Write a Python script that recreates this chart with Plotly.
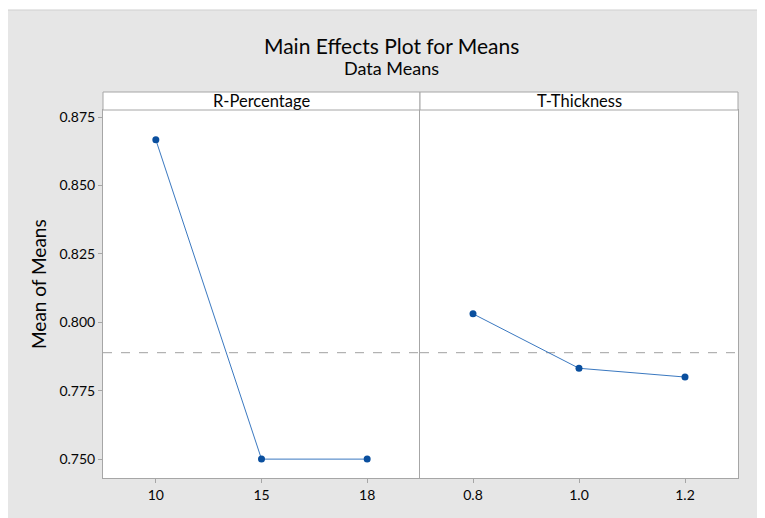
import plotly.graph_objects as go
from plotly.subplots import make_subplots

# Data
r_levels = ["10", "15", "18"]
r_means = [0.8667, 0.7500, 0.7500]
t_levels = ["0.8", "1.0", "1.2"]
t_means = [0.8031, 0.7832, 0.7800]
grand_mean = 0.7889
y_ticks = [0.750, 0.775, 0.800, 0.825, 0.850, 0.875]
panel_titles = ["R-Percentage", "T-Thickness"]

OFF = 8  # page body margin
W, H = 765 - OFF, 518 - OFF
ML, MR, MT, MB = 103 - OFF, 27, 92 - OFF, 40
PW, PH = W - ML - MR, H - MT - MB

def px_x(x):
    return (x - OFF - ML) / PW

def px_y(y):
    return (H - MB - (y - OFF)) / PH

FONT = "Lato"
TXT = "#050505"
LINE_COL = "#3a78c0"
MARK_COL = "#0a4f9e"
FRAME = "#a6a6a6"

split = px_x(420)
ytop = px_y(110)

fig = make_subplots(rows=1, cols=2, shared_yaxes=True, horizontal_spacing=0)

fig.add_trace(go.Scatter(x=r_levels, y=r_means, mode="lines+markers",
                         line=dict(color=LINE_COL, width=1),
                         marker=dict(color=MARK_COL, size=7),
                         showlegend=False), row=1, col=1)
fig.add_trace(go.Scatter(x=t_levels, y=t_means, mode="lines+markers",
                         line=dict(color=LINE_COL, width=1),
                         marker=dict(color=MARK_COL, size=7),
                         showlegend=False), row=1, col=2)

axis_common = dict(type="category", range=[-0.5, 2.5], showgrid=False,
                   zeroline=False, showline=True, linecolor=FRAME, linewidth=1,
                   mirror=True, ticks="outside", ticklen=4, tickcolor=FRAME,
                   tickfont=dict(family=FONT, size=14, color=TXT))
fig.update_xaxes(**axis_common)
fig.update_layout(xaxis=dict(domain=[0, split]), xaxis2=dict(domain=[split, 1]))

fig.update_yaxes(range=[0.7431, 0.8776], tickvals=y_ticks, tickformat=".3f",
                 showgrid=False, zeroline=False, showline=True, linecolor=FRAME,
                 linewidth=1, mirror=False, ticks="outside", ticklen=4,
                 tickcolor=FRAME, domain=[0, ytop],
                 tickfont=dict(family=FONT, size=14, color=TXT))
fig.update_yaxes(ticks="", mirror=True, row=1, col=2)

shapes = []
# white margins at top and left
shapes.append(dict(type="rect", xref="paper", yref="paper", x0=px_x(0), x1=px_x(765),
                   y0=px_y(10), y1=px_y(0), fillcolor="white", line=dict(width=0), layer="below"))
shapes.append(dict(type="rect", xref="paper", yref="paper", x0=px_x(0), x1=px_x(5),
                   y0=px_y(518), y1=px_y(0), fillcolor="white", line=dict(width=0), layer="below"))
shapes.append(dict(type="line", xref="paper", yref="paper", x0=px_x(5), x1=px_x(765),
                   y0=px_y(10), y1=px_y(10), line=dict(color="#cfcfcf", width=1)))
shapes.append(dict(type="line", xref="paper", yref="paper", x0=px_x(5), x1=px_x(5),
                   y0=px_y(10), y1=px_y(518), line=dict(color="#cfcfcf", width=1)))
# header strips
for x0, x1 in [(0, split), (split, 1)]:
    shapes.append(dict(type="rect", xref="paper", yref="paper", x0=x0, x1=x1,
                       y0=ytop, y1=1, fillcolor="white", line=dict(color=FRAME, width=1)))
# grand mean reference line
for xr in ["x", "x2"]:
    shapes.append(dict(type="line", xref=xr + " domain", yref="y", x0=0, x1=1,
                       y0=grand_mean, y1=grand_mean,
                       line=dict(color="#a0a0a0", width=1, dash="dash"), layer="below"))

annotations = []
for i, t in enumerate(panel_titles):
    cx = (split / 2) if i == 0 else (split + 1) / 2
    annotations.append(dict(text=t, xref="paper", yref="paper", x=cx, y=(ytop + 1) / 2,
                            showarrow=False, xanchor="center", yanchor="middle",
                            font=dict(family=FONT, size=16.5, color=TXT)))
annotations.append(dict(text="Main Effects Plot for Means", xref="paper", yref="paper",
                        x=px_x(391), y=px_y(45), showarrow=False, xanchor="center",
                        yanchor="middle", font=dict(family=FONT, size=21, color=TXT)))
annotations.append(dict(text="Data Means", xref="paper", yref="paper",
                        x=px_x(391), y=px_y(68), showarrow=False, xanchor="center",
                        yanchor="middle", font=dict(family=FONT, size=18, color=TXT)))
annotations.append(dict(text="Mean of Means", xref="paper", yref="paper",
                        x=px_x(38), y=px_y(284), showarrow=False, textangle=-90,
                        xanchor="center", yanchor="middle",
                        font=dict(family=FONT, size=19, color=TXT)))

fig.update_layout(width=W, height=H, margin=dict(l=ML, r=MR, t=MT, b=MB),
                  paper_bgcolor="#e6e6e6", plot_bgcolor="white",
                  shapes=shapes, annotations=annotations, showlegend=False)

fig.write_html("out.html")
